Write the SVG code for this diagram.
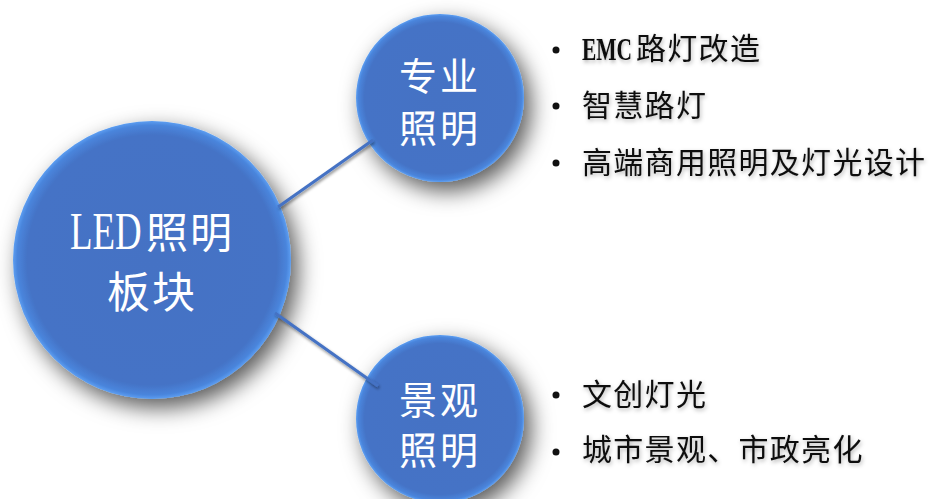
<svg xmlns="http://www.w3.org/2000/svg" width="929" height="499" viewBox="0 0 929 499">
  <defs>
    <radialGradient id="ballFill" cx="50%" cy="50%" r="50%">
      <stop offset="0" stop-color="#4472C4"/>
      <stop offset="0.9" stop-color="#4473C6"/>
      <stop offset="0.97" stop-color="#4A85DC"/>
      <stop offset="1" stop-color="#5C9EF2"/>
    </radialGradient>
    <filter id="ballShadow" x="-30%" y="-30%" width="170%" height="170%">
      <feDropShadow dx="7" dy="9" stdDeviation="11" flood-color="#000" flood-opacity="0.65"/>
    </filter>
    <filter id="lineShadow" x="-20%" y="-20%" width="140%" height="140%">
      <feDropShadow dx="1" dy="2" stdDeviation="1.5" flood-color="#000" flood-opacity="0.45"/>
    </filter>
    <filter id="textShadow" x="-10%" y="-30%" width="120%" height="160%">
      <feDropShadow dx="1" dy="2" stdDeviation="2" flood-color="#000" flood-opacity="0.3"/>
    </filter>
  </defs>
  <style>
    .ball { fill: url(#ballFill); filter: url(#ballShadow); }
    .conn { stroke: #4472C4; stroke-width: 3; fill: none; filter: url(#lineShadow); }
    .nlat { font-family: "Liberation Serif", "Noto Sans CJK SC", serif; fill: #FFFFFF; }
    .ncjk { font-family: "Noto Sans CJK SC", sans-serif; fill: #FFFFFF; }
    .blat { font-family: "Liberation Serif", "Noto Sans CJK SC", serif; font-weight: bold; fill: #111111; filter: url(#textShadow); }
    .bcjk { font-family: "Noto Sans CJK SC", sans-serif; fill: #111111; font-size: 30px; letter-spacing: 1.3px; filter: url(#textShadow); }
    .dot { fill: #111111; }
  </style>
  <rect width="929" height="499" fill="#FFFFFF"/>

  <g id="node-led">
    <circle class="ball" cx="152" cy="260" r="139"/>
    <text class="nlat" transform="matrix(0.71 0 0 1 70 249)" font-size="52">LED</text>
    <text class="ncjk" x="146" y="248" font-size="42" letter-spacing="2">照明</text>
    <text class="ncjk" x="107" y="308" font-size="43" letter-spacing="2">板块</text>
  </g>

  <g id="node-pro">
    <circle class="ball" cx="440" cy="98" r="84"/>
    <text class="ncjk" x="399" y="90" font-size="38" letter-spacing="3">专业</text>
    <text class="ncjk" x="399" y="142" font-size="38" letter-spacing="3">照明</text>
  </g>

  <g id="node-land">
    <circle class="ball" cx="440" cy="419" r="84"/>
    <text class="ncjk" x="399" y="414" font-size="38" letter-spacing="3">景观</text>
    <text class="ncjk" x="399" y="464" font-size="38" letter-spacing="3">照明</text>
  </g>

  <g id="connectors">
    <line class="conn" x1="278" y1="207" x2="373" y2="140"/>
    <line class="conn" x1="275" y1="313" x2="378" y2="386"/>
  </g>

  <g id="list-pro">
    <circle class="dot" cx="556" cy="50" r="3.5"/>
    <text class="blat" transform="matrix(0.67 0 0 1 582 60)" font-size="32">EMC</text>
    <text class="bcjk" x="636" y="59">路灯改造</text>
    <circle class="dot" cx="556" cy="106" r="3.5"/>
    <text class="bcjk" x="582" y="116">智慧路灯</text>
    <circle class="dot" cx="556" cy="163" r="3.5"/>
    <text class="bcjk" x="582" y="173">高端商用照明及灯光设计</text>
  </g>

  <g id="list-land">
    <circle class="dot" cx="556" cy="395" r="3.5"/>
    <text class="bcjk" x="582" y="405">文创灯光</text>
    <circle class="dot" cx="556" cy="452" r="3.5"/>
    <text class="bcjk" x="582" y="460">城市景观、市政亮化</text>
  </g>
</svg>
